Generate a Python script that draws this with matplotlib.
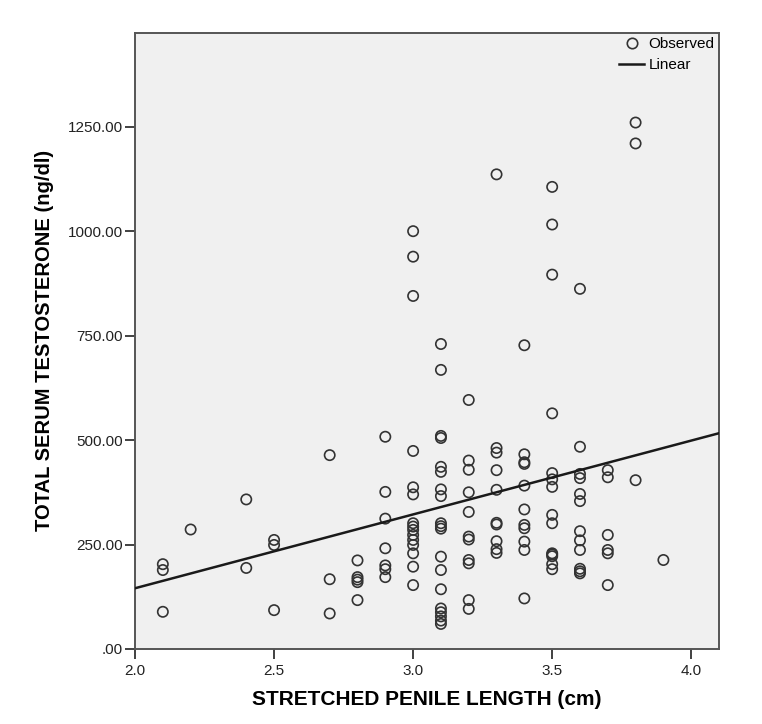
import matplotlib
matplotlib.use('Agg')
import matplotlib.pyplot as plt
import numpy as np
from matplotlib.lines import Line2D

plt.rcParams['font.family'] = ['Liberation Sans', 'DejaVu Sans']

# penile length (cm) -> testosterone (ng/dl) values
length_groups = [2.1, 2.2, 2.4, 2.5, 2.7, 2.8, 2.9, 3.0, 3.1, 3.2, 3.3, 3.4, 3.5, 3.6, 3.7, 3.8, 3.9]
testo_groups = [
    [203, 189, 89],
    [286],
    [358, 194],
    [261, 249, 93],
    [464, 167, 85],
    [212, 172, 166, 160, 117],
    [508, 376, 312, 241, 200, 191, 172],
    [1000, 939, 845, 474, 387, 370, 301, 293, 285, 273, 261, 249, 229, 197, 153],
    [730, 668, 510, 505, 436, 424, 382, 366, 301, 294, 288, 221, 189, 143, 97, 88, 78, 68, 60],
    [596, 451, 429, 375, 328, 269, 262, 213, 205, 117, 96],
    [1136, 481, 470, 428, 381, 302, 298, 258, 239, 230],
    [727, 466, 447, 443, 391, 334, 297, 289, 257, 237, 121],
    [1106, 1016, 896, 564, 421, 406, 388, 321, 301, 229, 226, 222, 203, 191],
    [862, 484, 419, 409, 371, 354, 282, 260, 237, 192, 186, 181],
    [428, 411, 273, 237, 229, 153],
    [1260, 1210, 404],
    [213],
]

# linear fit line
fit_intercept = -208.0
fit_slope = 176.7

x_ticks = [2.0, 2.5, 3.0, 3.5, 4.0]
y_ticks = [0, 250, 500, 750, 1000, 1250]
y_tick_labels = ['.00', '250.00', '500.00', '750.00', '1000.00', '1250.00']

xs = []
ys = []
for x, vals in zip(length_groups, testo_groups):
    xs += [x] * len(vals)
    ys += vals

fig = plt.figure(figsize=(7.62, 7.24), dpi=100)
ax = fig.add_axes([0.1772, 0.1036, 0.7664, 0.8512])
ax.set_facecolor('#f0f0f0')

ax.scatter(xs, ys, s=55, facecolors='none', edgecolors='#333333', linewidths=1.2, zorder=3)

line_x = np.array([2.0, 4.1])
ax.plot(line_x, fit_intercept + fit_slope * line_x, color='#1a1a1a', lw=1.8, zorder=4)

ax.set_xlim(2.0, 4.1)
ax.set_ylim(0, 1475)
ax.set_xticks(x_ticks)
ax.set_xticklabels([f'{t:.1f}' for t in x_ticks])
ax.set_yticks(y_ticks)
ax.set_yticklabels(y_tick_labels)
ax.tick_params(axis='both', direction='out', length=7, width=1.3, color='#333333',
               labelsize=11, labelcolor='#222222')
ax.tick_params(axis='y', pad=2)

for spine in ax.spines.values():
    spine.set_color('#555555')
    spine.set_linewidth(1.4)

ax.set_xlabel('STRETCHED PENILE LENGTH (cm)', fontsize=15, fontweight='bold', labelpad=9)
ax.set_ylabel('TOTAL SERUM TESTOSTERONE (ng/dl)', fontsize=14.5, fontweight='bold', labelpad=10)

handles = [
    Line2D([], [], marker='o', ls='none', mfc='none', mec='#333333', mew=1.2, ms=7.5),
    Line2D([], [], color='#1a1a1a', lw=1.8),
]
ax.legend(handles, ['Observed', 'Linear'], loc='upper right', frameon=False, fontsize=11,
          handlelength=1.6, handletextpad=0.3, borderaxespad=0.05, labelspacing=0.45,
          borderpad=0.25)

fig.savefig('out.png', dpi=100, facecolor='white')
